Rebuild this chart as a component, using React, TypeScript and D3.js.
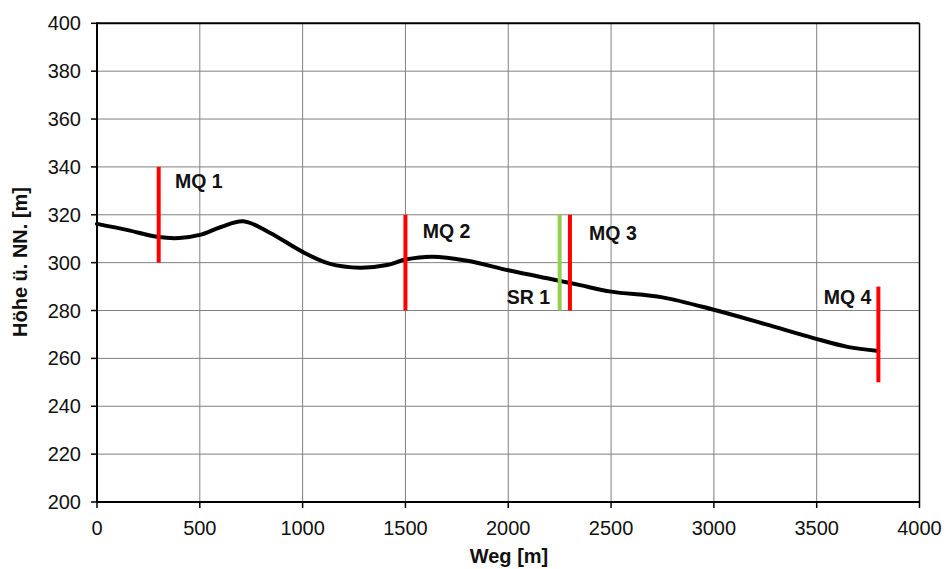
import React from "react";
import * as d3 from "d3";

const profileX = [0, 150, 300, 400, 500, 600, 712, 840, 1000, 1130, 1280, 1410, 1500, 1630, 1800, 2000, 2250, 2350, 2500, 2750, 3000, 3250, 3480, 3650, 3800];
const profileY = [316.2, 313.6, 310.7, 310.3, 311.6, 314.8, 317.3, 312.5, 304.5, 299.6, 297.9, 299.0, 301.3, 302.5, 300.8, 296.8, 292.4, 290.6, 287.9, 285.5, 280.3, 274.3, 268.6, 264.8, 263.1];

const markerNames = ["MQ 1", "MQ 2", "SR 1", "MQ 3", "MQ 4"];
const markerX = [300, 1500, 2250, 2300, 3800];
const markerLow = [300, 280, 280, 280, 250];
const markerHigh = [340, 320, 320, 320, 290];
const markerKind = ["MQ", "MQ", "SR", "MQ", "MQ"];
const labelX = [379, 1584, 2203, 2393, 3766];
const labelY = [331.2, 310.3, 282.6, 309.5, 282.8];
const labelAnchor = ["start", "start", "end", "start", "end"];

const xTicks = [0, 500, 1000, 1500, 2000, 2500, 3000, 3500, 4000];
const yTicks = [200, 220, 240, 260, 280, 300, 320, 340, 360, 380, 400];

export default function App() {
  const W = 949, H = 569;
  const x = d3.scaleLinear().domain([0, 4000]).range([97, 919.5]);
  const y = d3.scaleLinear().domain([200, 400]).range([502, 23.3]);
  const line = d3.line<number>()
    .x((_, i) => x(profileX[i]))
    .y((d) => y(d))
    .curve(d3.curveCatmullRom.alpha(0.5));
  const font = "'Liberation Sans', Arial, sans-serif";
  return (
    <svg width={W} height={H} style={{ position: "absolute", left: 0, top: 0 }} fontFamily={font}>
      <rect width={W} height={H} fill="#fff" />
      {xTicks.map((t) => (
        <line key={"gx" + t} x1={x(t)} x2={x(t)} y1={y(200)} y2={y(400)} stroke="#808080" strokeWidth={1} />
      ))}
      {yTicks.map((t) => (
        <line key={"gy" + t} x1={x(0)} x2={x(4000)} y1={y(t)} y2={y(t)} stroke="#808080" strokeWidth={1} />
      ))}
      <line x1={x(0)} x2={x(4000)} y1={y(400)} y2={y(400)} stroke="#000" strokeWidth={2} />
      <line x1={x(4000)} x2={x(4000)} y1={y(400)} y2={y(200)} stroke="#000" strokeWidth={1.5} />
      <line x1={x(0)} x2={x(4000)} y1={y(200)} y2={y(200)} stroke="#000" strokeWidth={2} />
      <line x1={x(0)} x2={x(0)} y1={y(400) - 1} y2={y(200) + 1} stroke="#000" strokeWidth={2} />
      {yTicks.map((t) => (
        <g key={"ty" + t}>
          <line x1={x(0) - 6} x2={x(0)} y1={y(t)} y2={y(t)} stroke="#000" strokeWidth={1.5} />
          <text x={81} y={y(t)} dy="0.35em" textAnchor="end" fontSize={20} fill="#111">{t}</text>
        </g>
      ))}
      {xTicks.map((t) => (
        <g key={"tx" + t}>
          <line x1={x(t)} x2={x(t)} y1={y(200)} y2={y(200) + 6} stroke="#000" strokeWidth={1.5} />
          <text x={x(t)} y={535} textAnchor="middle" fontSize={20} fill="#111">{t}</text>
        </g>
      ))}
      <path d={line(profileY) || ""} fill="none" stroke="#000" strokeWidth={4} strokeLinecap="round" />
      {markerNames.map((n, i) => (
        <line key={"m" + n} x1={x(markerX[i])} x2={x(markerX[i])} y1={y(markerLow[i])} y2={y(markerHigh[i])}
          stroke={markerKind[i] === "SR" ? "#92d050" : "#ff0000"} strokeWidth={4} />
      ))}
      {markerNames.map((n, i) => (
        <text key={"l" + n} x={x(labelX[i])} y={y(labelY[i])} textAnchor={labelAnchor[i] as any}
          fontSize={19.5} fontWeight="bold" fill="#111">{n}</text>
      ))}
      <text x={509} y={563} textAnchor="middle" fontSize={20} fontWeight="bold" fill="#111">Weg [m]</text>
      <text transform={`translate(27,262) rotate(-90)`} textAnchor="middle" fontSize={20} fontWeight="bold" fill="#111">Höhe ü. NN. [m]</text>
    </svg>
  );
}
